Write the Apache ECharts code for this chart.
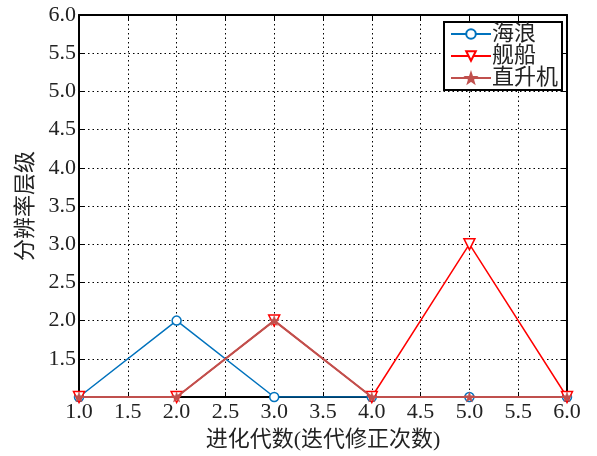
<!DOCTYPE html>
<html><head><meta charset="utf-8">
<script src="https://cdn.jsdelivr.net/npm/echarts@6/dist/echarts.min.js"></script>
<style>html,body{margin:0;padding:0;background:#fff}#c{width:597px;height:456px}</style>
</head><body><div id="c"></div>
<script>
const xValues = [1, 2, 3, 4, 5, 6];
const seaWave = [1, 2, 1, 1, 1, 1];
const ship = [1, 1, 2, 1, 3, 1];
const helicopter = [1, 1, 2, 1, 1, 1];
const seriesNames = ['海浪', '舰船', '直升机'];
const xTitle = '进化代数(迭代修正次数)';
const yTitle = '分辨率层级';

const FONT = '"Liberation Serif", "Noto Sans CJK SC", serif';
const pairs = arr => xValues.map((x, i) => [x, arr[i]]);
const chart = echarts.init(document.getElementById('c'));
const fmt = v => v.toFixed(1);
const gridLine = {show: true, lineStyle: {color: '#000', type: [1.5, 3], width: 1}};
chart.setOption({
  animation: false,
  backgroundColor: '#fff',
  grid: {left: 79, right: 30, top: 15, bottom: 59},
  legend: {
    orient: 'vertical', right: 35, top: 22, padding: [1, 4, 1, 6], itemGap: 0,
    itemWidth: 40, itemHeight: 12,
    borderColor: '#000', borderWidth: 2, backgroundColor: '#fff',
    textStyle: {fontFamily: FONT, fontSize: 22, color: '#222', padding: [0, 0, 0, -4]},
    data: seriesNames
  },
  xAxis: [{
    type: 'value', min: 1, max: 6, interval: 0.5,
    name: xTitle, nameLocation: 'middle', nameGap: 32,
    nameTextStyle: {fontFamily: FONT, fontSize: 22, color: '#222'},
    axisLine: {show: true, lineStyle: {color: '#000', width: 2}},
    axisTick: {show: true, inside: true, length: 5, lineStyle: {color: '#000', width: 1}},
    axisLabel: {formatter: fmt, fontFamily: FONT, fontSize: 22, color: '#222', margin: 4},
    splitLine: gridLine
  }, {
    type: 'value', min: 1, max: 6, interval: 0.5, position: 'top',
    axisLine: {show: true, lineStyle: {color: '#000', width: 2}},
    axisTick: {show: true, inside: true, length: 5, lineStyle: {color: '#000', width: 1}},
    axisLabel: {show: false}, splitLine: {show: false}
  }],
  yAxis: [{
    type: 'value', min: 1, max: 6, interval: 0.5,
    name: yTitle, nameLocation: 'middle', nameGap: 41,
    nameTextStyle: {fontFamily: FONT, fontSize: 22, color: '#222'},
    axisLine: {show: true, lineStyle: {color: '#000', width: 2}},
    axisTick: {show: true, inside: true, length: 5, lineStyle: {color: '#000', width: 1}},
    axisLabel: {formatter: v => v === 1 ? '' : fmt(v), fontFamily: FONT, fontSize: 22, color: '#222', margin: 3},
    splitLine: gridLine
  }, {
    type: 'value', min: 1, max: 6, interval: 0.5, position: 'right',
    axisLine: {show: true, lineStyle: {color: '#000', width: 2}},
    axisTick: {show: true, inside: true, length: 5, lineStyle: {color: '#000', width: 1}},
    axisLabel: {show: false}, splitLine: {show: false}
  }],
  series: [
    {name: seriesNames[0], type: 'line', data: pairs(seaWave), color: '#0072BD',
     symbol: 'circle', symbolSize: 9, lineStyle: {width: 1.5, color: '#0072BD'},
     itemStyle: {color: '#fff', borderColor: '#0072BD', borderWidth: 1.5}, z: 2},
    {name: seriesNames[1], type: 'line', data: pairs(ship), color: '#FF0000',
     symbol: 'triangle', symbolRotate: 180, symbolSize: 11, lineStyle: {width: 1.5, color: '#FF0000'},
     itemStyle: {color: '#fff', borderColor: '#FF0000', borderWidth: 1.5}, z: 3},
    {name: seriesNames[2], type: 'line', data: pairs(helicopter), color: '#C0504D',
     symbol: 'path://M0,-10 L2.35,-3.24 L9.51,-3.09 L3.8,1.24 L5.88,8.09 L0,4 L-5.88,8.09 L-3.8,1.24 L-9.51,-3.09 L-2.35,-3.24 Z',
     symbolSize: 10, lineStyle: {width: 2, color: '#C0504D'},
     itemStyle: {color: '#C0504D', borderColor: '#C0504D', borderWidth: 0.5}, z: 4}
  ]
});
</script></body></html>
